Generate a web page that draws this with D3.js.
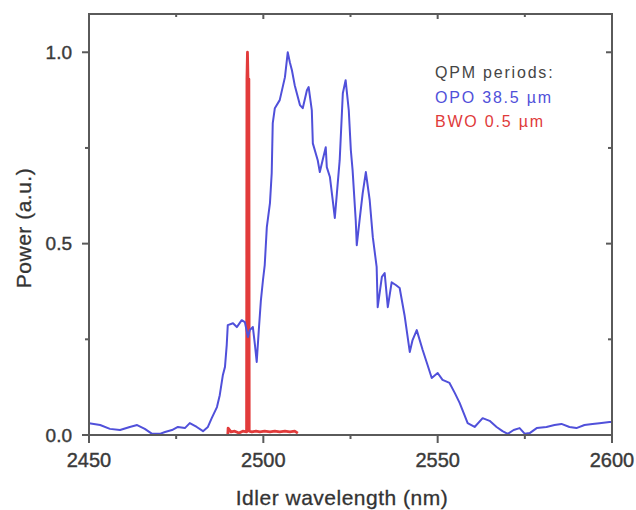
<!DOCTYPE html>
<html>
<head>
<meta charset="utf-8">
<script src="https://cdn.jsdelivr.net/npm/d3@7"></script>
<style>
  html, body { margin: 0; padding: 0; background: #fff; }
  svg text { font-family: "Liberation Sans", Arial, sans-serif; }
</style>
</head>
<body>
<svg id="chart" width="636" height="510"></svg>
<script>
// ---- data ----
const opoWavelength = [2450.0,2453.2,2456.0,2458.9,2461.7,2463.8,2466.0,2468.1,2470.3,2471.8,2473.8,2475.5,2477.5,2478.9,2480.9,2482.7,2484.1,2485.2,2486.7,2487.5,2488.4,2489.0,2489.5,2489.8,2491.3,2492.4,2493.8,2494.7,2495.6,2496.1,2497.0,2497.6,2498.1,2498.7,2499.3,2499.9,2500.4,2501.0,2501.9,2502.4,2502.7,2503.3,2504.7,2506.2,2507.0,2507.6,2508.2,2509.0,2510.5,2511.3,2512.5,2513.0,2513.9,2514.2,2515.6,2516.2,2517.0,2517.9,2518.2,2519.1,2519.9,2520.5,2521.1,2521.9,2522.8,2523.6,2524.5,2525.1,2525.6,2526.5,2526.8,2527.7,2528.5,2529.4,2530.5,2531.4,2532.5,2532.8,2534.0,2534.8,2535.7,2536.8,2538.0,2539.1,2540.5,2542.0,2542.8,2544.0,2545.7,2547.1,2548.3,2550.0,2551.4,2553.4,2554.9,2556.3,2557.7,2558.6,2560.6,2562.9,2564.9,2566.9,2568.6,2570.1,2571.8,2573.5,2575.0,2576.4,2578.4,2581.2,2583.5,2585.5,2587.8,2589.8,2592.1,2594.4,2596.4,2599.3,2600.0];
const opoPower = [0.031,0.026,0.016,0.013,0.021,0.026,0.016,0.003,0.003,0.008,0.013,0.021,0.018,0.031,0.021,0.010,0.021,0.044,0.073,0.104,0.157,0.178,0.235,0.287,0.292,0.282,0.300,0.295,0.256,0.274,0.282,0.235,0.191,0.274,0.352,0.405,0.444,0.543,0.606,0.684,0.815,0.854,0.875,0.935,1.000,0.974,0.953,0.914,0.862,0.854,0.901,0.909,0.849,0.762,0.718,0.687,0.718,0.752,0.700,0.674,0.614,0.567,0.632,0.718,0.893,0.927,0.849,0.744,0.692,0.561,0.496,0.569,0.632,0.687,0.614,0.517,0.439,0.334,0.413,0.423,0.334,0.399,0.392,0.384,0.313,0.217,0.248,0.274,0.222,0.183,0.149,0.162,0.144,0.136,0.110,0.084,0.052,0.031,0.021,0.044,0.037,0.021,0.010,0.003,0.013,0.018,0.003,0.005,0.018,0.021,0.026,0.029,0.021,0.018,0.026,0.029,0.031,0.034,0.034];

const bwoWavelength = [2489.8,2489.9,2490.7,2491.8,2493.0,2494.1,2495.2,2495.3,2495.45,2495.6,2495.85,2495.95,2496.7,2497.9,2499.0,2500.4,2501.9,2503.3,2504.7,2506.2,2507.6,2509.0,2509.9];
const bwoPower =      [0.000,0.018,0.008,0.010,0.005,0.010,0.008,0.930,1.000,0.930,0.930,0.010,0.008,0.010,0.008,0.010,0.008,0.010,0.008,0.010,0.008,0.010,0.005];

const xMajorTicks = [2450, 2500, 2550, 2600];
const xMinorTicks = [2475, 2525, 2575];
const yMajorTicks = [0.0, 0.5, 1.0];
const yMinorTicks = [0.25, 0.75];
const legendLines = ["QPM  periods:", "OPO 38.5 \u00b5m", "BWO 0.5 \u00b5m"];

// ---- layout ----
const svg = d3.select("#chart");
const L = 89, R = 612, T = 14, B = 435;
const x = d3.scaleLinear().domain([2450, 2600]).range([L, R]);
const y = d3.scaleLinear().domain([0, 1.1]).range([B, T]);
const axisColor = "#5a5a5a";

svg.append("defs").append("clipPath").attr("id", "clip")
  .append("rect").attr("x", L).attr("y", T).attr("width", R - L).attr("height", B - T);

const line = d3.line().x(d => x(d[0])).y(d => y(d[1]));
const bwo = bwoWavelength.map((w, i) => [w, bwoPower[i]]);
const opo = opoWavelength.map((w, i) => [w, opoPower[i]]);

const plot = svg.append("g").attr("clip-path", "url(#clip)");
plot.append("path").datum(bwo).attr("d", line)
  .attr("fill", "none").attr("stroke", "#e23b3b").attr("stroke-width", 2.8)
  .attr("stroke-linejoin", "round");
plot.append("path").datum(opo).attr("d", line)
  .attr("fill", "none").attr("stroke", "#5050da").attr("stroke-width", 2)
  .attr("stroke-linejoin", "round");

// ---- frame ----
svg.append("rect").attr("x", L).attr("y", T).attr("width", R - L).attr("height", B - T)
  .attr("fill", "none").attr("stroke", axisColor).attr("stroke-width", 2);

function tickLines(vals, fn, len) {
  svg.append("g").selectAll("line").data(vals).join("line")
    .each(function(d){ const c = fn(d, len); d3.select(this).attr("x1", c[0]).attr("y1", c[1]).attr("x2", c[2]).attr("y2", c[3]); })
    .attr("stroke", axisColor).attr("stroke-width", 2);
}
// bottom (outward)
tickLines(xMajorTicks, (d, l) => [x(d), B, x(d), B + l], 8);
tickLines(xMinorTicks, (d, l) => [x(d), B, x(d), B + l], 4);
// top (inward)
tickLines(xMajorTicks.slice(1, -1), (d, l) => [x(d), T, x(d), T + l], 5);
tickLines(xMinorTicks, (d, l) => [x(d), T, x(d), T + l], 3);
// left (outward)
tickLines(yMajorTicks, (d, l) => [L, y(d), L - l, y(d)], 7);
tickLines(yMinorTicks, (d, l) => [L, y(d), L - l, y(d)], 4);
// right (inward)
tickLines(yMajorTicks.slice(1), (d, l) => [R, y(d), R - l, y(d)], 6);
tickLines(yMinorTicks, (d, l) => [R, y(d), R - l, y(d)], 4);

// tick labels
svg.append("g").selectAll("text").data(xMajorTicks).join("text")
  .attr("x", d => x(d)).attr("y", 467).attr("text-anchor", "middle")
  .attr("font-size", 20).attr("fill", "#3a3a3a").attr("stroke", "#3a3a3a").attr("stroke-width", 0.4)
  .text(d3.format("d"));
svg.append("g").selectAll("text").data(yMajorTicks).join("text")
  .attr("x", 72).attr("y", d => y(d)).attr("dy", "0.35em").attr("text-anchor", "end")
  .attr("font-size", 19).attr("fill", "#3a3a3a").attr("stroke", "#3a3a3a").attr("stroke-width", 0.4)
  .text(d3.format(".1f"));

// axis titles
svg.append("text").attr("x", 342).attr("y", 505).attr("text-anchor", "middle")
  .attr("font-size", 21).attr("fill", "#333").attr("letter-spacing", 0.5)
  .attr("stroke", "#333").attr("stroke-width", 0.3)
  .text("Idler wavelength (nm)");
svg.append("text").attr("transform", "translate(31,228) rotate(-90)").attr("text-anchor", "middle")
  .attr("font-size", 21).attr("fill", "#333").attr("letter-spacing", 0.5)
  .attr("stroke", "#333").attr("stroke-width", 0.3)
  .text("Power (a.u.)");

// legend text
const legendColors = ["#454545", "#5050da", "#e03a3a"];
const legendY = [78, 103, 127];
legendLines.forEach((t, i) => {
  svg.append("text").attr("x", 435).attr("y", legendY[i])
    .attr("font-size", 16).attr("letter-spacing", 1.8)
    .attr("fill", legendColors[i]).text(t);
});
</script>
</body>
</html>
